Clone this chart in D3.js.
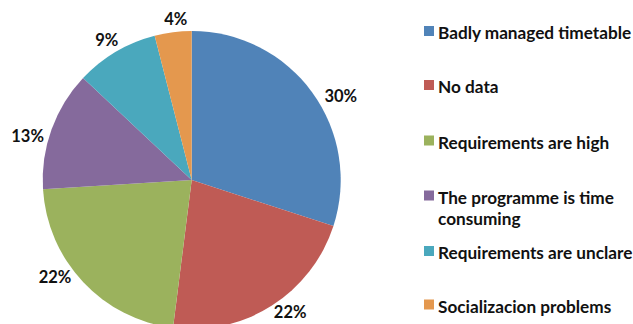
<!DOCTYPE html>
<html>
<head>
<meta charset="utf-8">
<script src="https://cdn.jsdelivr.net/npm/d3@7"></script>
<style>
  html, body { margin: 0; padding: 0; background: #fff; }
  svg { display: block; }
  text { font-family: Lato, "Open Sans", sans-serif; font-weight: bold; fill: #111; }
</style>
</head>
<body>
<svg id="chart" width="633" height="324"></svg>
<script>
// Reasons given, share of answers (%)
const categories = [
  "Badly managed timetable",
  "No data",
  "Requirements are high",
  "The programme is time consuming",
  "Requirements are unclare",
  "Socializacion problems"
];
const values = [30, 22, 22, 13, 9, 4];
const valueLabels = ["30%", "22%", "22%", "13%", "9%", "4%"];
const colors = ["#5083b8", "#bf5b55", "#9bb25d", "#856a9c", "#4aa8bd", "#e4984e"];
// legend entries that wrap onto two lines
const legendLines = [
  ["Badly managed timetable"],
  ["No data"],
  ["Requirements are high"],
  ["The programme is time", "consuming"],
  ["Requirements are unclare"],
  ["Socializacion problems"]
];

const svg = d3.select("#chart");
const cx = 191.7, cy = 180, R = 149;

const pie = d3.pie().sort(null).value(d => d);
const arcs = pie(values);
const arc = d3.arc().innerRadius(0).outerRadius(R);
const labelArc = d3.arc().innerRadius(R + 18).outerRadius(R + 18);

const g = svg.append("g").attr("transform", `translate(${cx},${cy})`);

g.selectAll("path.slice")
  .data(arcs)
  .join("path")
  .attr("class", "slice")
  .attr("d", arc)
  .attr("fill", (d, i) => colors[i]);

// small adjustments so labels sit where the chart software put them
const labelNudge = [[14, 14], [9, -9], [-15, -17], [-7, 13], [0, 4], [5, 5]];

g.selectAll("text.pct")
  .data(arcs)
  .join("text")
  .attr("class", "pct")
  .attr("x", (d, i) => labelArc.centroid(d)[0] + labelNudge[i][0])
  .attr("y", (d, i) => labelArc.centroid(d)[1] + labelNudge[i][1])
  .attr("text-anchor", "middle")
  .attr("dominant-baseline", "central")
  .style("font-size", "16.5px")
  .text((d, i) => valueLabels[i]);

// Legend
const legendRowsY = [32, 86, 141.5, 196.5, 252, 305.5];
const legend = svg.append("g");
categories.forEach((c, i) => {
  const y = legendRowsY[i];
  legend.append("rect")
    .attr("x", 424).attr("y", y - 6)
    .attr("width", 10).attr("height", 10)
    .attr("fill", colors[i]);
  const t = legend.append("text")
    .attr("x", 438).attr("y", y)
    .attr("dominant-baseline", "central")
    .style("font-size", "17.2px");
  legendLines[i].forEach((line, j) => {
    t.append("tspan").attr("x", 438).attr("dy", j === 0 ? 0 : 21.5).text(line);
  });
});
</script>
</body>
</html>
